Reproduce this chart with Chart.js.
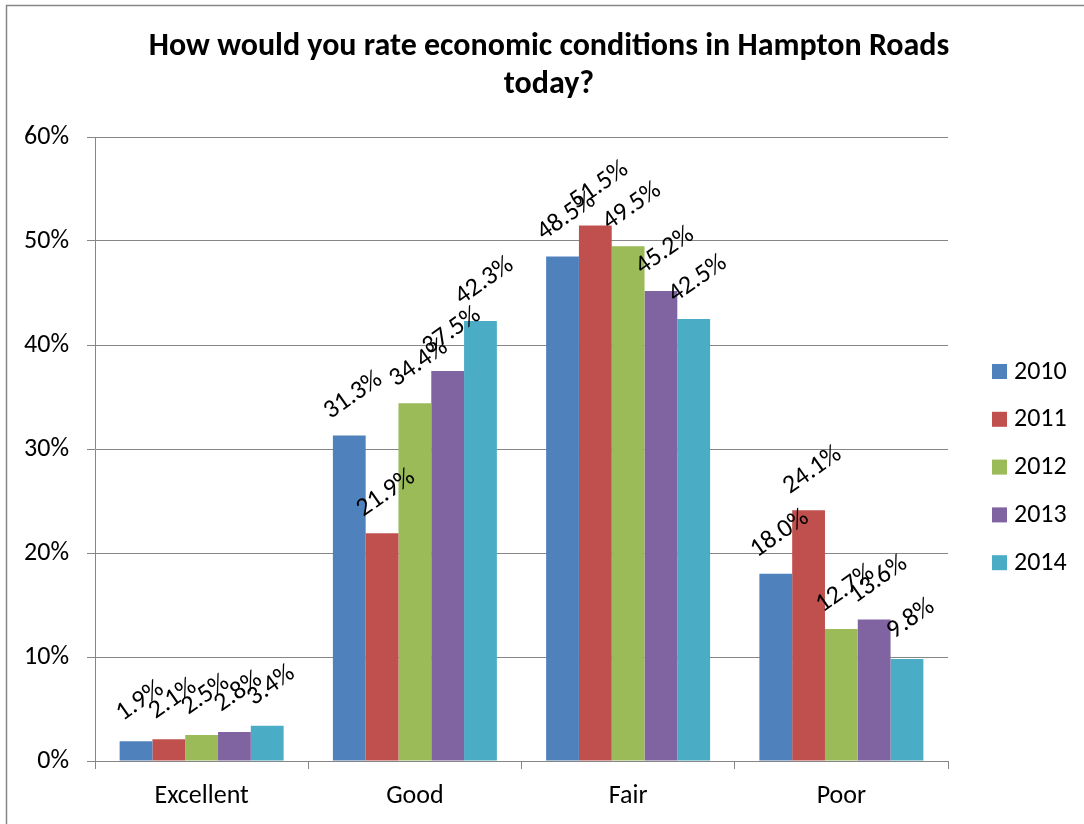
<!DOCTYPE html>
<html>
<head>
<meta charset="utf-8">
<script src="https://cdn.jsdelivr.net/npm/chart.js@4"></script>
<style>
  html, body { margin: 0; padding: 0; background: #fff; }
  #wrap { position: relative; width: 1084px; height: 824px; }
</style>
</head>
<body>
<div id="wrap"><canvas id="chart" width="1084" height="824"></canvas></div>
<script>
const categories = ['Excellent', 'Good', 'Fair', 'Poor'];
const years = ['2010', '2011', '2012', '2013', '2014'];
const values2010 = [1.9, 31.3, 48.5, 18.0];
const values2011 = [2.1, 21.9, 51.5, 24.1];
const values2012 = [2.5, 34.4, 49.5, 12.7];
const values2013 = [2.8, 37.5, 45.2, 13.6];
const values2014 = [3.4, 42.3, 42.5, 9.8];
const yearColors = ['#4F81BD', '#C0504D', '#9BBB59', '#8064A2', '#4BACC6'];
const titleLines = ['How would you rate economic conditions in Hampton Roads', 'today?'];
const FONT = 'Carlito, Lato, sans-serif';

const series = [values2010, values2011, values2012, values2013, values2014];

// title, rotated value labels, outer frame and legend
const extras = {
    id: 'extras',
    afterDatasetsDraw(chart) {
        const ctx = chart.ctx;
        ctx.save();
        ctx.font = '26px ' + FONT;
        ctx.fillStyle = '#000';
        ctx.textAlign = 'center';
        ctx.textBaseline = 'middle';
        chart.data.datasets.forEach((ds, i) => {
            chart.getDatasetMeta(i).data.forEach((bar, j) => {
                ctx.save();
                ctx.translate(bar.x + 4, bar.y - 40);
                ctx.rotate(-35 * Math.PI / 180);
                ctx.fillText(ds.data[j].toFixed(1) + '%', 0, 0);
                ctx.restore();
            });
        });
        ctx.restore();
    },
    afterDraw(chart) {
        const ctx = chart.ctx;
        ctx.save();
        // frame
        ctx.strokeStyle = '#868686';
        ctx.lineWidth = 1.5;
        ctx.beginPath();
        ctx.moveTo(6.5, 830);
        ctx.lineTo(6.5, 5.5);
        ctx.lineTo(1090, 5.5);
        ctx.stroke();
        // title
        ctx.fillStyle = '#000';
        ctx.font = 'bold 32px ' + FONT;
        ctx.textAlign = 'center';
        ctx.textBaseline = 'middle';
        titleLines.forEach((t, i) => ctx.fillText(t, 549, 47 + i * 38));
        // legend
        ctx.font = '26px ' + FONT;
        ctx.textAlign = 'left';
        chart.data.datasets.forEach((ds, i) => {
            const y = 371 + i * 47.8;
            ctx.fillStyle = ds.backgroundColor;
            ctx.fillRect(992, y - 7, 15, 15);
            ctx.fillStyle = '#000';
            ctx.fillText(ds.label, 1014, y + 1);
        });
        ctx.restore();
    }
};

new Chart(document.getElementById('chart'), {
    type: 'bar',
    data: {
        labels: categories,
        datasets: years.map((y, i) => ({
            label: y,
            data: series[i],
            backgroundColor: yearColors[i],
            borderWidth: 0,
            categoryPercentage: 0.769,
            barPercentage: 1.0
        }))
    },
    options: {
        responsive: false,
        animation: false,
        layout: { padding: { left: 0, right: 136, top: 137, bottom: 0 } },
        plugins: {
            legend: { display: false },
            tooltip: { enabled: false },
            title: { display: false }
        },
        scales: {
            x: {
                grid: { display: true, drawOnChartArea: false, drawTicks: true, tickLength: 8, offset: true, color: '#868686' },
                border: { color: '#868686', width: 1 },
                ticks: { color: '#000', font: { family: FONT, size: 26 }, padding: 12 },
                afterFit(s) { s.height = 63; }
            },
            y: {
                min: 0,
                max: 60,
                grid: { color: '#868686', tickLength: 8, drawTicks: true },
                border: { color: '#868686', width: 1 },
                ticks: {
                    stepSize: 10,
                    color: '#000',
                    font: { family: FONT, size: 26 },
                    padding: 18,
                    callback: v => v + '%'
                },
                afterFit(s) { s.width = 95; }
            }
        }
    },
    plugins: [extras]
});
</script>
</body>
</html>
